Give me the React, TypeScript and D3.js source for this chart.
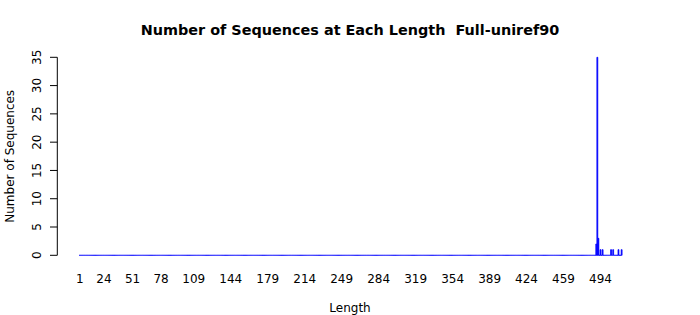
import React from "react";
import * as d3 from "d3";

const maxLength = 514;
const nonZeroLengths = [490, 491, 492, 494, 496, 504, 506, 511, 514];
const nonZeroCounts = [2, 35, 3, 1, 1, 1, 1, 1, 1];
const xTickLabels = [1, 24, 51, 78, 109, 144, 179, 214, 249, 284, 319, 354, 389, 424, 459, 494];
const yTicks = [0, 5, 10, 15, 20, 25, 30, 35];

const W = 700;
const H = 315;
const FONT = "DejaVu Sans, sans-serif";

export default function App() {
  const lengths = d3.range(1, maxLength + 1);
  const countMap = new Map(nonZeroLengths.map((l, i) => [l, nonZeroCounts[i]]));
  const data = lengths.map((l) => ({ l, c: countMap.get(l) ?? 0 }));

  const x = d3.scaleLinear().domain([1, 494]).range([79.7, 600.5]);
  const y = d3.scaleLinear().domain([0, 35]).range([255.3, 57.3]);
  const step = x(2) - x(1);
  const bw = step / 1.2;

  const barPath = (d: { l: number; c: number }) => {
    const p = d3.path();
    const x0 = x(d.l) - bw / 2;
    const x1 = x(d.l) + bw / 2;
    p.moveTo(x0, y(0));
    p.lineTo(x0, y(d.c));
    p.lineTo(x1, y(d.c));
    p.lineTo(x1, y(0));
    p.closePath();
    return p.toString();
  };

  return (
    <svg width={W} height={H} style={{ display: "block", position: "absolute", left: 0, top: 0 }}>
      <rect width={W} height={H} fill="white" />
      <text
        x={350}
        y={35}
        textAnchor="middle"
        fontFamily={FONT}
        fontWeight="bold"
        fontSize={14.4}
        style={{ whiteSpace: "pre" }}
      >
        {"Number of Sequences at Each Length  Full-uniref90"}
      </text>
      <g>
        {data.map((d) => (
          <path key={d.l} d={barPath(d)} fill="blue" stroke="blue" strokeWidth={0.8} />
        ))}
      </g>
      <line x1={57.3} x2={57.3} y1={y(0)} y2={y(35)} stroke="black" />
      {yTicks.map((t) => (
        <g key={t}>
          <line x1={50} x2={57.3} y1={y(t)} y2={y(t)} stroke="black" />
          <text
            transform={`translate(41,${y(t)}) rotate(-90)`}
            textAnchor="middle"
            fontFamily={FONT}
            fontSize={12}
          >
            {t}
          </text>
        </g>
      ))}
      {xTickLabels.map((t) => (
        <text key={t} x={x(t)} y={282.7} textAnchor="middle" fontFamily={FONT} fontSize={12}>
          {t}
        </text>
      ))}
      <text x={350} y={312.3} textAnchor="middle" fontFamily={FONT} fontSize={12}>
        Length
      </text>
      <text
        transform={`translate(13.5,156.3) rotate(-90)`}
        textAnchor="middle"
        fontFamily={FONT}
        fontSize={12}
      >
        Number of Sequences
      </text>
    </svg>
  );
}
